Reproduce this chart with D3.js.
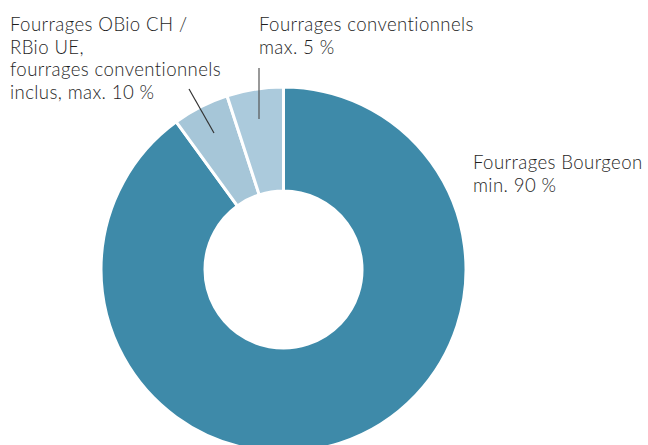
<!DOCTYPE html>
<html><head><meta charset="utf-8">
<script src="https://cdn.jsdelivr.net/npm/d3@7"></script>
<style>body{margin:0;background:#fff}svg{display:block}</style>
</head><body>
<script>
const categories = ["Fourrages Bourgeon", "Fourrages OBio CH / RBio UE", "Fourrages conventionnels"];
const values = [90, 5, 5];
const colors = ["#3e8aa9", "#a6c6d8", "#abcadc"];
const labelLines = [
  ["Fourrages Bourgeon", "min. 90 %"],
  ["Fourrages OBio CH /", "RBio UE,", "fourrages conventionnels", "inclus, max. 10 %"],
  ["Fourrages conventionnels", "max. 5 %"]
];

const W = 648, H = 445;
const svg = d3.select("body").append("svg").attr("width", W).attr("height", H);
const cx = 283.5, cy = 269.5, R = 182.5, r = 78.5;

const pie = d3.pie().sort(null).value(d => d)(values);
const arc = d3.arc().innerRadius(r).outerRadius(R);
const g = svg.append("g").attr("transform", `translate(${cx},${cy})`);
g.selectAll("path").data(pie).join("path")
  .attr("d", arc).attr("fill", (d, i) => colors[i])
  .attr("stroke", "#fff").attr("stroke-width", 3);

// leader lines
svg.append("line").attr("x1", 189).attr("y1", 89).attr("x2", 214).attr("y2", 133)
  .attr("stroke", "#333").attr("stroke-width", 1.2);
svg.append("line").attr("x1", 259).attr("y1", 68).attr("x2", 259).attr("y2", 119)
  .attr("stroke", "#555").attr("stroke-width", 1.2);

const font = "Lato, sans-serif";
const fs = 18.6, lh = 22.7;
function label(lines, x, y) {
  const t = svg.append("text").attr("x", x).attr("y", y)
    .attr("font-family", font).attr("font-size", fs).attr("font-weight", 300)
    .attr("fill", "#1e1e1e").attr("letter-spacing", 0.4);
  lines.forEach((l, i) => t.append("tspan").attr("x", x).attr("dy", i ? lh : 0).text(l));
}
label(labelLines[0], 473, 169);
label(labelLines[1], 10, 31);
label(labelLines[2], 259, 31);
</script>
</body></html>
